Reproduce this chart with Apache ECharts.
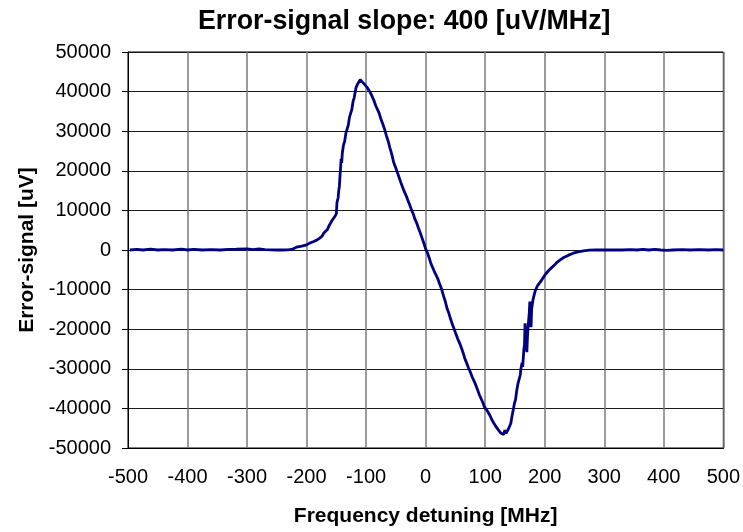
<!DOCTYPE html>
<html>
<head>
<meta charset="utf-8">
<script src="https://cdn.jsdelivr.net/npm/echarts@6/dist/echarts.min.js"></script>
<style>
html,body{margin:0;padding:0;background:#fff;}
#c{width:743px;height:532px;}
</style>
</head>
<body>
<div id="c"></div>
<script>
const titleText = 'Error-signal slope: 400 [uV/MHz]';
const xName = 'Frequency detuning [MHz]';
const yName = 'Error-signal [uV]';
const xTicks = [-500, -400, -300, -200, -100, 0, 100, 200, 300, 400, 500];
const yTicks = [-50000, -40000, -30000, -20000, -10000, 0, 10000, 20000, 30000, 40000, 50000];

const freqMHz = [
  -497, -485, -475, -462, -450, -440, -425, -410, -400, -390, -375, -360, -345, -330, -318, -300, -290, -280, -270, -260, -250, -240, -232, -225,
  -217, -208, -200, -194, -189, -183, -178, -174, -171, -168, -165, -162, -159, -157, -154, -152, -150, -149, -147, -146, -145, -144, -143, -142, -141, -140,
  -138, -136, -134, -132, -130, -128, -126, -124, -122, -120, -118, -117, -115, -114, -112, -110, -108, -105, -102, -99, -96, -93, -90, -87, -84, -81, -78,
  -75, -72, -69, -66, -63, -60, -57, -54, -51, -48, -45, -42, -39, -36, -33, -30, -27, -24, -21, -18, -15, -12, -9, -6, -3, 0,
  3, 6, 9, 12, 15, 18, 21, 24, 27, 30, 33, 36, 39, 42, 45, 48, 51, 54, 57, 60, 63, 66, 69, 72, 75, 78, 81, 84, 87, 90, 93, 96, 99,
  102, 105, 108, 111, 114, 117, 120, 123, 126, 129, 131, 133, 135, 137, 139, 141, 143, 145, 147, 149, 151, 153, 155, 157, 159, 160, 162, 163, 165, 166, 167, 168,
  170, 171, 172, 174, 175, 176, 177, 178, 180, 182, 184, 186, 188, 190, 193, 196, 199, 202, 206, 210, 215, 220, 226, 232, 240, 248, 256, 265, 275, 285,
  295, 310, 330, 345, 355, 365, 375, 385, 395, 405, 415, 430, 445, 460, 475, 488, 500
];
const signalUV = [
  0, 150, 0, 200, 0, 100, 0, 200, 0, 150, 0, 100, 0, 150, 200, 300, 100, 250, 100, 50, 0, 0, 50, 150,
  700, 1000, 1300, 1800, 2100, 2500, 3000, 3500, 4300, 4100, 5200, 6200, 6000, 7500, 7800, 8600, 9200, 12000, 13200, 15000, 16000, 18500, 20500, 23000, 22000, 24500,
  26500, 27500, 29500, 29000, 31500, 33500, 33000, 35500, 37500, 38500, 39000, 41000, 40500, 42000, 42500, 43000, 42500, 42200, 41800, 41200, 40500, 39800, 38800, 37800, 36500, 35500, 34500,
  33000, 31800, 30500, 28900, 27500, 25800, 24200, 22300, 21000, 19800, 18500, 17200, 16000, 14800, 13800, 12600, 11500, 10200, 9200, 7800, 6800, 5500, 4300, 3000, 1700, 300,
  -700, -2000, -3500, -4500, -5600, -6500, -7500, -8800, -10000, -11600, -13000, -14800, -16000, -17500, -18800, -20000, -21300, -22500, -23500, -24700, -26000, -27500, -28600, -29800, -30800, -32000, -33000, -34000, -35200, -36500, -37500, -38500, -39700,
  -40300, -41000, -41800, -42800, -43600, -44300, -45000, -45600, -46200, -46400, -46600, -45500, -46300, -45800, -45200, -44800, -43800, -42000, -40500, -38800, -37800, -35500, -33800, -33500, -31500, -30000, -28500, -29500, -25000, -24000, -18500, -22000,
  -25800, -22000, -19500, -16000, -13000, -16500, -19500, -15000, -12800, -11500, -10300, -10800, -9000, -8600, -8000, -7300, -6600, -6000, -5300, -4700, -4000, -3200, -2500, -1900, -1300, -800, -450, -200, -50, 0,
  0, 0, 0, 100, 0, 150, 0, 150, 0, -100, 0, 100, 0, 100, 0, 100, 0
];

const seriesData = freqMHz.map((f, i) => [f, signalUV[i]]);
const FONT = '"Liberation Sans", Arial, sans-serif';

const chart = echarts.init(document.getElementById('c'), null, {renderer: 'canvas'});
chart.setOption({
  animation: false,
  backgroundColor: '#ffffff',
  title: {
    text: titleText,
    left: 198,
    top: 8,
    padding: 0,
    textStyle: {fontFamily: FONT, fontSize: 26.8, fontWeight: 'bold', color: '#000', lineHeight: 27}
  },
  grid: {
    left: 128, right: 15, top: 52, bottom: 80,
    show: true, borderColor: '#000', borderWidth: 1, backgroundColor: 'transparent'
  },
  xAxis: {
    type: 'value',
    min: xTicks[0], max: xTicks[xTicks.length - 1], interval: 100,
    name: xName,
    nameLocation: 'middle',
    nameGap: 58,
    nameTextStyle: {fontFamily: FONT, fontSize: 21, fontWeight: 'bold', color: '#000', lineHeight: 21},
    axisLine: {show: true, onZero: false, lineStyle: {color: '#000', width: 1}},
    axisTick: {show: false},
    axisLabel: {fontFamily: FONT, fontSize: 20, color: '#000', margin: 19, lineHeight: 20,
      formatter: v => String(v)},
    splitLine: {show: true, lineStyle: {color: '#7a7a7a', width: 1.5}}
  },
  yAxis: {
    type: 'value',
    min: yTicks[0], max: yTicks[yTicks.length - 1], interval: 10000,
    name: yName,
    nameLocation: 'middle',
    nameGap: 90,
    nameTextStyle: {fontFamily: FONT, fontSize: 21, fontWeight: 'bold', color: '#000', lineHeight: 21},
    axisLine: {show: true, onZero: false, lineStyle: {color: '#000', width: 1}},
    axisTick: {show: true, length: 6, inside: false, lineStyle: {color: '#000', width: 1}},
    axisLabel: {fontFamily: FONT, fontSize: 20, color: '#000', margin: 17,
      formatter: v => String(v)},
    splitLine: {show: true, lineStyle: {color: '#1a1a1a', width: 1}}
  },
  series: [{
    type: 'line',
    data: seriesData,
    showSymbol: false,
    symbol: 'none',
    lineStyle: {color: '#000080', width: 2.8},
    z: 5
  }]
});
</script>
</body>
</html>
